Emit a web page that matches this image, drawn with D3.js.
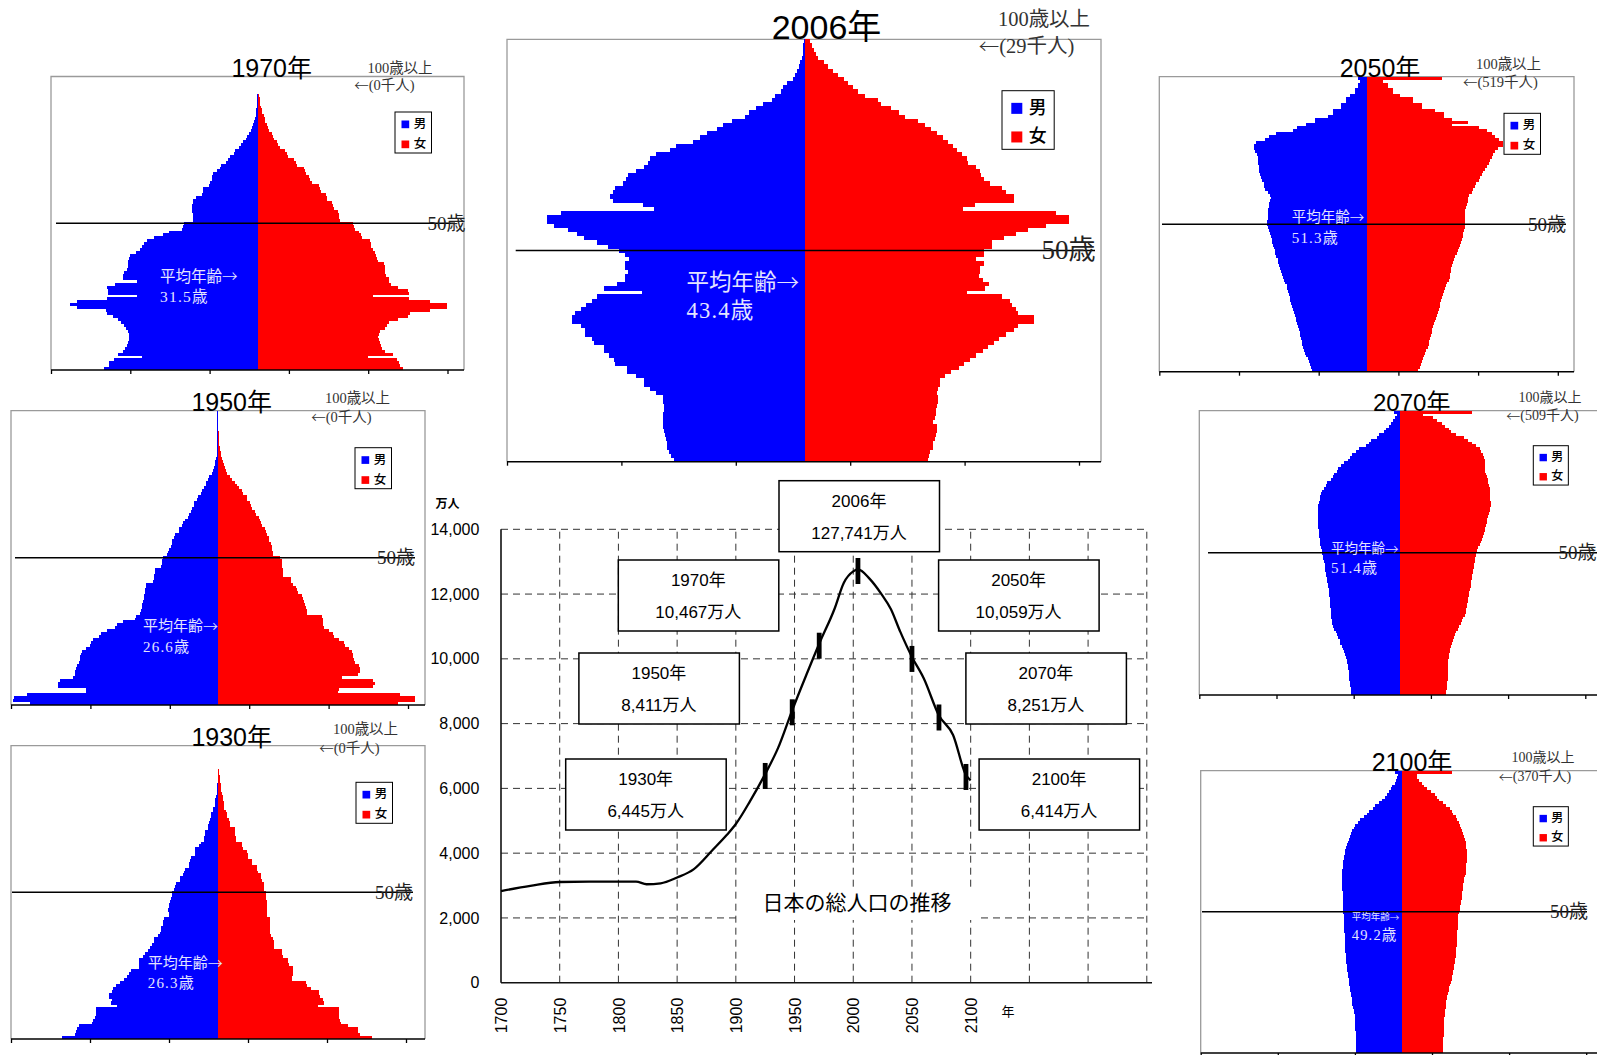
<!DOCTYPE html>
<html>
<head>
<meta charset="utf-8">
<script src="https://cdn.jsdelivr.net/npm/d3@7"></script>
<style>
  body { margin: 0; background: #fff; }
  svg { display: block; }
</style>
</head>
<body>
<div id="chart"></div>
<script>
// ages 0..99 and "100 and over"
const ages = d3.range(0, 101);

// population by single year of age, thousands
const male1930 = [
  991, 909, 903, 895, 882, 800, 790, 780, 777, 775,
  777, 640, 680, 675, 690, 690, 672, 665, 650, 620,
  600, 580, 565, 555, 505, 505, 505, 503, 475, 465,
  445, 430, 420, 410, 405, 380, 370, 365, 360, 353,
  350, 345, 315, 315, 318, 312, 310, 305, 300, 296,
  294, 280, 275, 270, 241, 240, 225, 220, 212, 183,
  183, 176, 174, 150, 147, 145, 120, 110, 92, 90,
  85, 84, 65, 63, 62, 50, 48, 46, 32, 31,
  22, 21, 20, 15, 11, 10, 9, 7, 5, 0,
  0, 0, 0, 0, 0, 0, 0, 0, 0, 0,
  0];
const female1930 = [
  972, 898, 882, 882, 819, 775, 770, 766, 766, 766,
  766, 630, 667, 665, 645, 640, 635, 588, 560, 556,
  468, 468, 472, 472, 470, 445, 441, 438, 410, 405,
  400, 355, 352, 350, 348, 332, 330, 330, 328, 330,
  330, 328, 311, 311, 310, 311, 311, 310, 305, 304,
  304, 292, 290, 288, 275, 273, 270, 250, 245, 242,
  216, 215, 190, 185, 182, 155, 151, 148, 112, 109,
  106, 105, 103, 75, 73, 70, 53, 52, 50, 37,
  36, 35, 28, 27, 26, 16, 15, 14, 10, 10,
  10, 3, 2, 1, 0, 0, 0, 0, 0, 0,
  0];

const male1950 = [
  1186, 1290, 1285, 1207, 830, 835, 1012, 1010, 1000, 913,
  905, 900, 895, 890, 875, 870, 870, 865, 860, 830,
  805, 800, 790, 750, 740, 700, 650, 635, 600, 525,
  520, 490, 485, 480, 478, 475, 470, 465, 462, 460,
  458, 455, 410, 405, 403, 400, 398, 360, 357, 355,
  350, 320, 315, 310, 300, 294, 290, 279, 270, 250,
  248, 230, 222, 210, 190, 185, 170, 168, 155, 151,
  135, 126, 110, 105, 90, 80, 78, 62, 57, 40,
  31, 25, 21, 20, 12, 10, 8, 6, 6, 6,
  6, 6, 6, 6, 6, 6, 6, 6, 6, 6,
  6];
const female1950 = [
  1133, 1238, 1238, 1144, 755, 760, 975, 985, 975, 777,
  880, 890, 890, 885, 860, 855, 850, 850, 845, 820,
  795, 790, 760, 730, 720, 700, 665, 660, 657, 657,
  655, 560, 556, 550, 545, 540, 535, 525, 505, 495,
  490, 470, 460, 455, 410, 409, 405, 400, 399, 398,
  390, 346, 346, 340, 336, 330, 321, 318, 304, 300,
  295, 277, 272, 262, 255, 235, 230, 215, 204, 198,
  183, 178, 157, 150, 130, 115, 105, 84, 75, 52,
  48, 40, 38, 30, 21, 18, 14, 10, 8, 5,
  4, 3, 2, 2, 1, 0, 0, 0, 0, 0,
  0];

const male1970 = [
  966, 940, 936, 905, 730, 880, 850, 835, 825, 818,
  812, 810, 812, 818, 830, 845, 860, 880, 913, 950,
  955, 1140, 1186, 1140, 950, 762, 945, 945, 950, 900,
  762, 850, 850, 845, 825, 820, 818, 815, 810, 805,
  770, 740, 728, 715, 700, 655, 600, 560, 480, 470,
  465, 410, 408, 405, 414, 414, 412, 410, 405, 390,
  350, 348, 345, 306, 300, 287, 285, 280, 258, 240,
  230, 200, 190, 174, 150, 140, 118, 105, 95, 75,
  68, 52, 45, 38, 31, 23, 18, 12, 10, 8,
  6, 5, 3, 2, 2, 1, 0, 0, 0, 0,
  0];
const female1970 = [
  917, 895, 890, 878, 697, 850, 800, 785, 777, 770,
  763, 760, 762, 770, 800, 815, 830, 886, 945, 959,
  1085, 1194, 1194, 1085, 955, 728, 955, 950, 886, 840,
  829, 829, 810, 800, 800, 800, 795, 760, 750, 745,
  740, 725, 715, 714, 705, 660, 650, 640, 612, 608,
  600, 520, 512, 510, 505, 480, 476, 470, 440, 434,
  428, 400, 392, 385, 340, 330, 322, 305, 300, 290,
  250, 241, 230, 190, 183, 175, 140, 130, 120, 104,
  99, 90, 72, 67, 60, 48, 45, 40, 28, 25,
  22, 16, 15, 13, 10, 4, 2, 1, 0, 0,
  0];

const male2006 = [
  574, 586, 595, 603, 605, 607, 612, 617, 620, 620,
  620, 620, 617, 617, 620, 620, 651, 677, 707, 707,
  738, 781, 781, 833, 836, 859, 880, 880, 923, 931,
  962, 962, 980, 1018, 1018, 1006, 980, 957, 931, 911,
  712, 880, 821, 786, 786, 776, 790, 790, 772, 790,
  816, 862, 911, 966, 1000, 1035, 1100, 1130, 1130, 1066,
  660, 708, 842, 854, 842, 833, 798, 784, 776, 741,
  703, 686, 677, 651, 591, 565, 492, 461, 430, 387,
  358, 320, 263, 245, 216, 185, 147, 133, 107, 98,
  78, 55, 47, 36, 29, 22, 15, 12, 10, 8,
  7];
const female2006 = [
  537, 540, 547, 558, 560, 565, 570, 577, 575, 560,
  565, 570, 572, 575, 580, 580, 575, 582, 590, 590,
  609, 636, 670, 692, 719, 747, 778, 799, 824, 848,
  878, 913, 930, 1000, 1000, 931, 922, 905, 893, 860,
  705, 786, 803, 776, 760, 765, 765, 783, 748, 783,
  783, 814, 817, 869, 921, 973, 1050, 1154, 1154, 1094,
  688, 740, 912, 912, 878, 860, 809, 779, 770, 762,
  748, 710, 705, 684, 662, 645, 622, 601, 575, 550,
  524, 494, 437, 408, 373, 333, 316, 260, 230, 209,
  187, 170, 143, 123, 100, 83, 57, 48, 36, 30,
  20];

const male2050 = [
  348, 350, 358, 363, 370, 385, 390, 395, 400, 405,
  409, 412, 418, 422, 426, 432, 440, 445, 447, 452,
  460, 464, 468, 475, 480, 483, 488, 495, 500, 505,
  512, 520, 525, 533, 541, 545, 552, 558, 560, 568,
  575, 579, 583, 588, 594, 598, 605, 611, 615, 622,
  628, 626, 622, 621, 620, 618, 615, 612, 607, 605,
  607, 622, 642, 645, 648, 660, 665, 674, 676, 678,
  678, 684, 684, 684, 690, 700, 709, 709, 694, 640,
  615, 569, 464, 440, 384, 328, 328, 244, 212, 212,
  160, 160, 132, 132, 107, 76, 76, 59, 59, 44,
  55];
const female2050 = [
  323, 330, 337, 344, 350, 360, 365, 372, 380, 386,
  390, 396, 400, 405, 410, 415, 420, 426, 430, 438,
  445, 449, 455, 460, 466, 470, 478, 485, 491, 497,
  505, 512, 518, 522, 527, 530, 535, 539, 545, 555,
  565, 572, 580, 586, 590, 596, 602, 605, 610, 613,
  615, 617, 617, 617, 617, 617, 620, 625, 632, 632,
  640, 659, 665, 680, 686, 700, 712, 722, 730, 743,
  750, 764, 770, 785, 790, 800, 820, 854, 854, 827,
  800, 785, 754, 701, 533, 634, 533, 481, 481, 428,
  344, 344, 288, 288, 208, 166, 166, 134, 134, 103,
  470];

const male2070 = [
  315, 315, 318, 322, 325, 328, 328, 330, 332, 335,
  338, 341, 345, 352, 358, 363, 370, 378, 386, 391,
  400, 408, 417, 425, 432, 439, 442, 445, 447, 450,
  450, 452, 454, 455, 456, 458, 460, 462, 465, 468,
  472, 474, 477, 480, 483, 485, 488, 492, 496, 500,
  502, 506, 510, 515, 517, 520, 522, 524, 527, 530,
  532, 533, 533, 533, 533, 532, 530, 528, 525, 520,
  517, 512, 505, 495, 480, 470, 450, 437, 425, 410,
  400, 380, 365, 340, 326, 310, 285, 265, 220, 202,
  185, 150, 135, 105, 90, 70, 60, 45, 35, 22,
  42];
const female2070 = [
  300, 300, 302, 305, 307, 309, 309, 310, 310, 311,
  311, 312, 314, 317, 320, 322, 326, 332, 338, 343,
  350, 358, 365, 375, 385, 395, 402, 410, 418, 425,
  430, 433, 436, 440, 443, 446, 450, 453, 457, 460,
  463, 466, 469, 472, 475, 478, 481, 484, 487, 490,
  493, 500, 508, 515, 522, 530, 536, 543, 548, 553,
  557, 561, 565, 570, 575, 580, 585, 587, 587, 585,
  585, 583, 583, 580, 576, 572, 567, 561, 556, 552,
  550, 548, 548, 548, 546, 535, 525, 520, 490, 467,
  440, 413, 365, 330, 315, 290, 272, 240, 213, 152,
  467];

const male2100 = [
  296, 297, 298, 298, 298, 298, 299, 299, 300, 300,
  300, 301, 302, 305, 308, 312, 316, 320, 322, 325,
  328, 332, 335, 337, 339, 342, 345, 348, 350, 352,
  354, 356, 358, 360, 362, 364, 365, 366, 367, 367,
  368, 369, 370, 371, 372, 373, 374, 375, 376, 377,
  378, 379, 380, 381, 382, 382, 383, 383, 384, 384,
  384, 384, 385, 385, 385, 384, 383, 382, 378, 376,
  374, 370, 366, 360, 356, 350, 342, 335, 328, 320,
  310, 302, 285, 270, 245, 225, 210, 185, 170, 150,
  130, 110, 95, 85, 70, 60, 45, 37, 30, 22,
  43];
const female2100 = [
  270, 270, 270, 270, 271, 271, 272, 272, 273, 273,
  274, 275, 276, 278, 280, 283, 285, 287, 290, 293,
  297, 301, 305, 309, 313, 318, 323, 328, 332, 335,
  338, 341, 344, 347, 349, 350, 352, 354, 356, 357,
  358, 359, 360, 361, 362, 363, 363, 364, 366, 368,
  372, 376, 380, 384, 386, 388, 390, 393, 395, 397,
  399, 402, 406, 410, 414, 417, 419, 420, 421, 421,
  421, 421, 421, 420, 418, 414, 410, 406, 400, 392,
  384, 378, 370, 359, 350, 335, 325, 310, 290, 270,
  245, 230, 216, 190, 166, 145, 130, 110, 97, 97,
  327];

// total population of Japan, 万人
const popYears = [1700, 1725, 1750, 1775, 1800, 1815, 1824, 1836, 1850, 1864,
  1880, 1892, 1900, 1912, 1925, 1936, 1948, 1960, 1971, 1984,
  1992, 2000, 2004, 2014, 2024, 2032, 2040, 2050, 2060, 2073,
  2085, 2096, 2100];
const popValues = [2830, 2990, 3110, 3120, 3120, 3120, 3040, 3070, 3250, 3500,
  4090, 4550, 4900, 5600, 6445, 7250, 8411, 9500, 10467, 11540,
  12350, 12700, 12760, 12470, 12000, 11540, 10840, 10059, 9400, 8251,
  7650, 6414, 6250];
const markYears = [1925, 1948, 1971, 2004, 2050, 2073, 2096];
const markValues = [6445, 8411, 10467, 12774, 10059, 8251, 6414];
const boxYears = ["1930年", "1950年", "1970年", "2006年", "2050年", "2070年", "2100年"];
const boxTotals = ["6,445万人", "8,411万人", "10,467万人", "127,741万人", "10,059万人", "8,251万人", "6,414万人"];
const yTicks = d3.range(0, 14001, 2000);
const xTicks = d3.range(1700, 2101, 50);
const gridYears = d3.range(1750, 2251, 50);

const sans = '"Liberation Sans", "Noto Sans CJK JP", sans-serif';
const serif = '"Liberation Serif", "Noto Sans CJK JP", serif';
const jp = '"Noto Sans CJK JP", sans-serif';

const svg = d3.select("#chart").append("svg")
  .attr("width", 1597)
  .attr("height", 1055);

// pyramid panels: data + where each one sits on the page
const pyramids = [
  { title: "1970年", male: male1970, female: female1970, over: "(0千人)", mean: "31.5歳",
    L: 51, R: 464, T: 76.5, B: 370, C: 257.7, step: 79.3, tx: 271.7, ts: 25,
    o100: [400, 70], oArrow: [384.5, 87], os: 14.5, leg: [395, 112], ls: 1,
    line: [56, 455], l50: 446.5, l50s: 19, mx: 160, my: [278, 298], ms: [15.5, 15.5] },
  { title: "1950年", male: male1950, female: female1950, over: "(0千人)", mean: "26.6歳",
    L: 11, R: 425, T: 410.7, B: 705, C: 218.3, step: 79.4, tx: 231.7, ts: 25,
    o100: [357.5, 400], oArrow: [341.5, 419], os: 14.5, leg: [355, 447.7], ls: 1,
    line: [15, 415], l50: 396, l50s: 19, mx: 143, my: [628.3, 648.3], ms: [15, 15] },
  { title: "1930年", male: male1930, female: female1930, over: "(0千人)", mean: "26.3歳",
    L: 11, R: 425, T: 745.7, B: 1039, C: 218.3, step: 79, tx: 231.7, ts: 25,
    o100: [365.5, 731], oArrow: [349.5, 750], os: 14.5, leg: [356, 782.3], ls: 1,
    line: [12, 413], l50: 394, l50s: 19, mx: 147.7, my: [965, 984.3], ms: [15, 15] },
  { title: "2006年", male: male2006, female: female2006, over: "(29千人)", mean: "43.4歳",
    L: 507, R: 1101, T: 39.3, B: 461.7, C: 805.3, step: 114.4, tx: 826.5, ts: 34,
    o100: [1044, 21.7], oArrow: [1026.5, 48.3], os: 20.5, leg: [1002, 90.7], ls: 1.43,
    line: [515.7, 1095], l50: 1068.5, l50s: 27, mx: 686.5, my: [285, 313.3], ms: [22.5, 22.5] },
  { title: "2050年", male: male2050, female: female2050, over: "(519千人)", mean: "51.3歳",
    L: 1159.3, R: 1574, T: 76.7, B: 371.7, C: 1367, step: 79.7, tx: 1380, ts: 25,
    o100: [1508.5, 66], oArrow: [1500.5, 84], os: 14.5, leg: [1504, 113.3], ls: 1,
    line: [1162, 1566], l50: 1547, l50s: 19, mx: 1291.7, my: [219.3, 239.3], ms: [14.5, 15] },
  { title: "2070年", male: male2070, female: female2070, over: "(509千人)", mean: "51.4歳",
    L: 1199.3, R: 1620, T: 410.7, B: 695, C: 1400, step: 77.2, tx: 1411.7, ts: 24,
    o100: [1550, 399], oArrow: [1542.5, 417], os: 14, leg: [1533.3, 445.7], ls: 0.96,
    line: [1208, 1597], l50: 1577.5, l50s: 19, mx: 1331, my: [550, 569.3], ms: [13.5, 15] },
  { title: "2100年", male: male2100, female: female2100, over: "(370千人)", mean: "49.2歳",
    L: 1200.7, R: 1620, T: 770.7, B: 1053, C: 1401.7, step: 77.1, tx: 1412, ts: 25,
    o100: [1543, 759], oArrow: [1535, 778], os: 14, leg: [1533.3, 806.7], ls: 0.96,
    line: [1202, 1587], l50: 1569, l50s: 19, mx: 1351.7, my: [918.3, 936.7], ms: [9.5, 14.5] }
];

function drawPyramid(p) {
  const g = svg.append("g");
  const y = d3.scaleBand().domain(ages.slice().reverse()).range([p.T, p.B]);
  const x = d3.scaleLinear().domain([0, 500]).range([0, p.step]);

  g.append("path")
    .attr("d", `M${p.L},${p.B}V${p.T}H${p.R}V${p.B}`)
    .attr("fill", "none")
    .attr("stroke", "#9a9a9a")
    .attr("stroke-width", 1.3);

  g.append("text")
    .attr("x", p.tx).attr("y", p.T)
    .attr("text-anchor", "middle")
    .style("font-family", sans).style("font-size", p.ts + "px")
    .text(p.title);

  g.append("g").selectAll("rect")
    .data(ages)
    .join("rect")
      .attr("x", a => p.C - x(p.male[a]))
      .attr("y", a => y(a))
      .attr("width", a => x(p.male[a]))
      .attr("height", y.bandwidth() + 0.4)
      .attr("fill", "#0000ff")
      .attr("shape-rendering", "crispEdges");

  g.append("g").selectAll("rect")
    .data(ages)
    .join("rect")
      .attr("x", p.C)
      .attr("y", a => y(a))
      .attr("width", a => x(p.female[a]))
      .attr("height", y.bandwidth() + 0.4)
      .attr("fill", "#ff0000")
      .attr("shape-rendering", "crispEdges");

  // bottom axis, ticks every 500 thousand
  const tickScale = d3.scaleLinear().domain([0, 2500]).range([p.L, p.L + 5 * p.step]);
  const ax = g.append("g")
    .attr("transform", `translate(0,${p.B})`)
    .call(d3.axisBottom(tickScale).tickValues(d3.range(0, 2501, 500)).tickFormat("").tickSize(4).tickSizeOuter(0));
  ax.select(".domain").remove();
  ax.selectAll("line").attr("stroke", "#000").attr("stroke-width", 1.3);
  g.append("line")
    .attr("x1", p.L).attr("x2", p.R)
    .attr("y1", p.B).attr("y2", p.B)
    .attr("stroke", "#000").attr("stroke-width", 1.5);

  // 50 years line
  const y50 = y(50) + y.bandwidth() / 2;
  g.append("line")
    .attr("x1", p.line[0]).attr("x2", p.line[1])
    .attr("y1", y50).attr("y2", y50)
    .attr("stroke", "#000").attr("stroke-width", 1.5);
  g.append("text")
    .attr("x", p.l50).attr("y", y50 + 2)
    .attr("text-anchor", "middle").attr("dominant-baseline", "middle")
    .style("font-family", serif).style("font-size", p.l50s + "px")
    .attr("fill", "#222")
    .text("50歳");

  g.append("text")
    .attr("x", p.o100[0]).attr("y", p.o100[1])
    .attr("text-anchor", "middle").attr("dominant-baseline", "middle")
    .style("font-family", serif).style("font-size", p.os + "px")
    .attr("fill", "#333")
    .text("100歳以上");
  const ot = g.append("text")
    .attr("x", p.oArrow[0]).attr("y", p.oArrow[1])
    .attr("text-anchor", "middle").attr("dominant-baseline", "middle")
    .style("font-family", serif).style("font-size", p.os + "px")
    .attr("fill", "#333");
  ot.append("tspan").style("font-family", jp).style("font-weight", 300).text("←");
  ot.append("tspan").text(p.over);

  const mt = g.append("text")
    .attr("x", p.mx).attr("y", p.my[0])
    .attr("dominant-baseline", "middle")
    .style("font-family", serif).style("font-size", p.ms[0] + "px")
    .attr("fill", "#e4e4ff");
  mt.append("tspan").text("平均年齢");
  mt.append("tspan").style("font-family", jp).style("font-weight", 300).text("→");
  g.append("text")
    .attr("x", p.mx).attr("y", p.my[1])
    .attr("dominant-baseline", "middle")
    .style("font-family", serif).style("font-size", p.ms[1] + "px")
    .style("letter-spacing", "1.2px")
    .attr("fill", "#e4e4ff")
    .text(p.mean);

  // legend
  const s = p.ls;
  const lg = g.append("g").attr("transform", `translate(${p.leg[0]},${p.leg[1]})`);
  lg.append("rect")
    .attr("width", 36.5 * s).attr("height", 41 * s)
    .attr("fill", "#fff").attr("stroke", "#000").attr("stroke-width", 1);
  [["男", "#0000ff"], ["女", "#ff0000"]].forEach(([lab, col], i) => {
    lg.append("rect")
      .attr("x", 6.5 * s).attr("y", (8.5 + 20 * i) * s)
      .attr("width", 7.7 * s).attr("height", 7.7 * s)
      .attr("fill", col);
    lg.append("text")
      .attr("x", 25 * s).attr("y", (12.8 + 20 * i) * s)
      .attr("text-anchor", "middle").attr("dominant-baseline", "middle")
      .style("font-family", jp).style("font-size", (12.5 * s) + "px")
      .style("font-weight", 500)
      .text(lab);
  });
}

pyramids.forEach(drawPyramid);

// ---- total population line chart ----
const xs = d3.scaleLinear().domain([1700, 2250]).range([501, 1146.8]);
const ys = d3.scaleLinear().domain([0, 14000]).range([982.7, 529.3]);
const lc = svg.append("g");

lc.append("g").selectAll("line")
  .data(yTicks.filter(d => d > 0))
  .join("line")
    .attr("x1", xs(1700)).attr("x2", xs(2250))
    .attr("y1", d => ys(d)).attr("y2", d => ys(d))
    .attr("stroke", "#333").attr("stroke-dasharray", "7,5").attr("stroke-width", 1);
lc.append("g").selectAll("line")
  .data(gridYears)
  .join("line")
    .attr("x1", d => xs(d)).attr("x2", d => xs(d))
    .attr("y1", ys(0)).attr("y2", ys(14000))
    .attr("stroke", "#333").attr("stroke-dasharray", "7,5").attr("stroke-width", 1);

// chart title with its white patch
lc.append("rect")
  .attr("x", 738).attr("y", 888).attr("width", 240).attr("height", 32)
  .attr("fill", "#fff");
lc.append("text")
  .attr("x", 857).attr("y", 904)
  .attr("text-anchor", "middle").attr("dominant-baseline", "middle")
  .style("font-family", jp).style("font-size", "21px").style("font-weight", 400)
  .text("日本の総人口の推移");

const yAx = lc.append("g")
  .attr("transform", `translate(${xs(1700)},0)`)
  .call(d3.axisLeft(ys).tickValues(yTicks).tickFormat(d3.format(",")).tickSize(0).tickPadding(21.6));
yAx.select(".domain").remove();
yAx.selectAll("text").style("font-family", sans).style("font-size", "16px").attr("fill", "#000");

const xAx = lc.append("g")
  .attr("transform", `translate(0,${ys(0)})`)
  .call(d3.axisBottom(xs).tickValues(xTicks).tickFormat(d3.format("d")).tickSize(0));
xAx.select(".domain").remove();
xAx.selectAll("text")
  .attr("transform", "rotate(-90)")
  .attr("text-anchor", "end")
  .attr("x", -15).attr("y", 0).attr("dy", "0.35em")
  .style("font-family", sans).style("font-size", "16px").attr("fill", "#000");

lc.append("line")
  .attr("x1", xs(1700)).attr("x2", xs(1700))
  .attr("y1", ys(14000)).attr("y2", ys(0))
  .attr("stroke", "#111").attr("stroke-width", 1.6);
lc.append("line")
  .attr("x1", xs(1700)).attr("x2", 1152)
  .attr("y1", ys(0)).attr("y2", ys(0))
  .attr("stroke", "#111").attr("stroke-width", 1.6);

lc.append("text")
  .attr("x", 447.5).attr("y", 505)
  .attr("text-anchor", "middle").attr("dominant-baseline", "middle")
  .style("font-family", jp).style("font-size", "12px").style("font-weight", 700)
  .text("万人");
lc.append("text")
  .attr("x", 1008).attr("y", 1012)
  .attr("text-anchor", "middle").attr("dominant-baseline", "middle")
  .style("font-family", jp).style("font-size", "13px")
  .text("年");

const popLine = d3.line()
  .x(d => xs(d[0]))
  .y(d => ys(d[1]))
  .curve(d3.curveMonotoneX);
lc.append("path")
  .datum(d3.zip(popYears, popValues))
  .attr("d", popLine)
  .attr("fill", "none")
  .attr("stroke", "#000")
  .attr("stroke-width", 2.3);

lc.append("g").selectAll("rect")
  .data(d3.zip(markYears, markValues))
  .join("rect")
    .attr("x", d => xs(d[0]) - 2.4)
    .attr("y", d => ys(d[1]) - 11)
    .attr("width", 4.8)
    .attr("height", 26)
    .attr("fill", "#000");

// label boxes
const boxPos = [[565.7, 759], [578.9, 653], [618.3, 560], [779, 480.7], [938.6, 560], [965.9, 653], [979.1, 759]];
boxYears.forEach((yr, i) => {
  const [bx, by] = boxPos[i];
  const b = lc.append("g").attr("transform", `translate(${bx},${by})`);
  b.append("rect")
    .attr("width", 160.5).attr("height", 71)
    .attr("fill", "#fff").attr("stroke", "#000").attr("stroke-width", 1.5);
  b.append("text")
    .attr("x", 80).attr("y", 21.5)
    .attr("text-anchor", "middle").attr("dominant-baseline", "middle")
    .style("font-family", sans).style("font-size", "17px")
    .text(yr);
  b.append("text")
    .attr("x", 80).attr("y", 54)
    .attr("text-anchor", "middle").attr("dominant-baseline", "middle")
    .style("font-family", sans).style("font-size", "17px")
    .text(boxTotals[i]);
});
</script>
</body>
</html>
